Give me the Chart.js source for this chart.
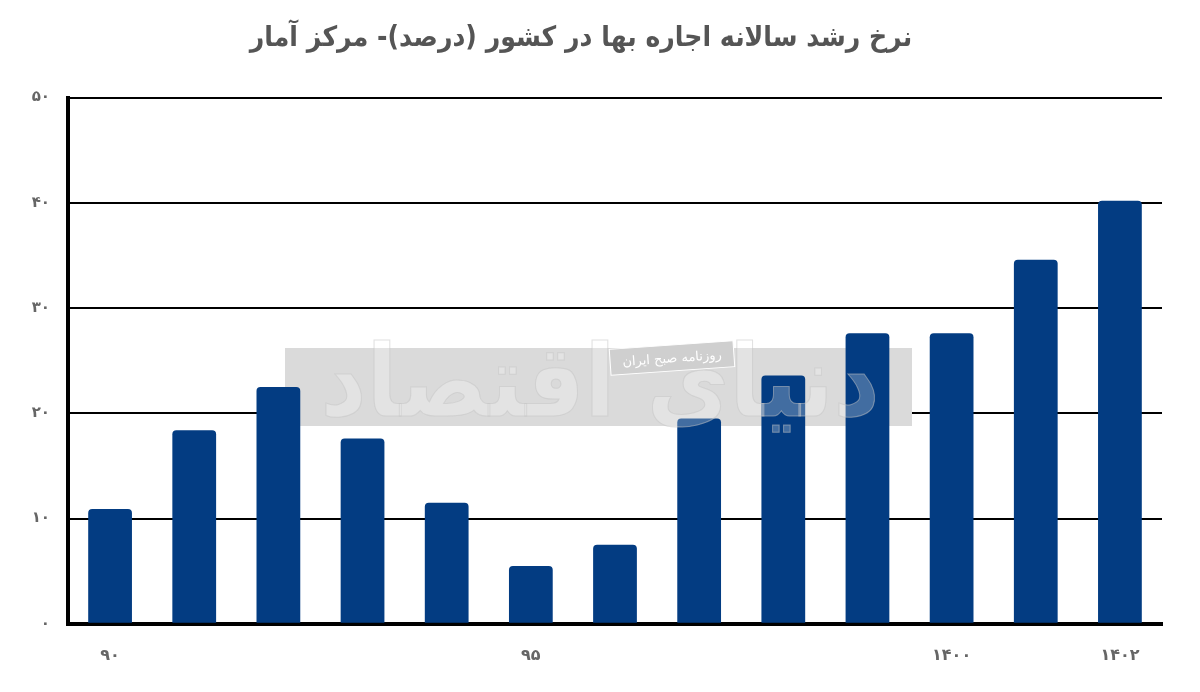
<!DOCTYPE html>
<html>
<head>
<meta charset="utf-8">
<script src="https://cdn.jsdelivr.net/npm/chart.js@4"></script>
<style>
  html, body { margin: 0; padding: 0; background: #fff; }
  #wrap { width: 1200px; height: 692px; }
</style>
</head>
<body>
<div id="wrap"><canvas id="grafico" width="1200" height="692"></canvas></div>
<script>
// ===== DADOS =====
const anos = ['90', '91', '92', '93', '94', '95', '96', '97', '98', '99', '1400', '1401', '1402'];
const rotulosVisiveis = ['90', '95', '1400', '1402'];
const crescimento = [10.9, 18.4, 22.5, 17.6, 11.5, 5.5, 7.5, 19.5, 23.6, 27.6, 27.6, 34.6, 40.2];
const titulo = 'نرخ رشد سالانه اجاره بها در کشور (درصد)- مرکز آمار';
const marcaTexto = 'روزنامه صبح ایران';
const marcaGrande = 'دنیای اقتصاد';

const fonte = '"DejaVu Sans", sans-serif';
const fonteTitulo = '"DejaVu Sans Condensed", "DejaVu Sans", sans-serif';

function faDigits(s) {
  return String(s).replace(/[0-9]/g, d => '۰۱۲۳۴۵۶۷۸۹'[d]);
}

// ===== MARCA D'AGUA =====
const marcaDagua = {
  id: 'marcaDagua',
  beforeDatasetsDraw(chart) {
    const ctx = chart.ctx;
    ctx.save();
    ctx.fillStyle = '#dadada';
    ctx.fillRect(285, 348, 627, 78);
    ctx.restore();
  },
  afterDatasetsDraw(chart) {
    const ctx = chart.ctx;
    ctx.save();
    // caligrafia grande (aproximada)
    ctx.font = 'bold 100px ' + fonteTitulo;
    ctx.textAlign = 'center';
    ctx.textBaseline = 'middle';
    ctx.globalAlpha = 0.25;
    ctx.fillStyle = '#ffffff';
    ctx.fillText(marcaGrande, 600, 390);
    ctx.globalAlpha = 0.5;
    ctx.lineWidth = 1;
    ctx.strokeStyle = '#c4c4c4';
    ctx.strokeText(marcaGrande, 600, 390);
    ctx.globalAlpha = 1;
    // caixinha do jornal
    ctx.translate(672, 358);
    ctx.rotate(-0.07);
    ctx.fillStyle = '#cfcfcf';
    ctx.fillRect(-62, -13, 124, 26);
    ctx.strokeStyle = '#ffffff';
    ctx.lineWidth = 1;
    ctx.strokeRect(-62, -13, 124, 26);
    ctx.fillStyle = '#ffffff';
    ctx.font = '13px ' + fonte;
    ctx.fillText(marcaTexto, 0, 1);
    ctx.restore();
  }
};

const fundoBranco = {
  id: 'fundoBranco',
  beforeDraw(chart) {
    const ctx = chart.ctx;
    ctx.save();
    ctx.fillStyle = '#ffffff';
    ctx.fillRect(0, 0, chart.width, chart.height);
    ctx.restore();
  }
};

// ===== GRAFICO =====
new Chart(document.getElementById('grafico'), {
  type: 'bar',
  data: {
    labels: anos,
    datasets: [{
      data: crescimento,
      backgroundColor: '#033c82',
      borderRadius: { topLeft: 4, topRight: 4, bottomLeft: 0, bottomRight: 0 },
      borderSkipped: 'start',
      barPercentage: 0.52,
      categoryPercentage: 1
    }]
  },
  options: {
    responsive: false,
    animation: false,
    layout: { padding: { top: 10, right: 38, bottom: 13, left: 0 } },
    plugins: {
      legend: { display: false },
      tooltip: { enabled: false },
      title: {
        display: true,
        text: titulo,
        color: '#555555',
        font: { family: fonteTitulo, size: 28, weight: 'bold' },
        padding: { top: 12, bottom: 42 }
      }
    },
    scales: {
      x: {
        grid: { display: false },
        border: { color: '#000', width: 4 },
        ticks: {
          autoSkip: false,
          maxRotation: 0,
          padding: 14,
          color: '#666666',
          font: { family: fonte, size: 16, weight: 'bold' },
          callback(v, i) {
            const l = anos[i];
            return rotulosVisiveis.includes(l) ? faDigits(l) : '';
          }
        }
      },
      y: {
        min: 0,
        max: 50,
        afterFit(s) { s.width = 68; },
        grid: { color: '#000', lineWidth: 2, drawTicks: false },
        border: { color: '#000', width: 4 },
        ticks: {
          stepSize: 10,
          padding: 18,
          color: '#666666',
          font: { family: fonte, size: 15, weight: 'bold' },
          callback: v => faDigits(v)
        }
      }
    }
  },
  plugins: [fundoBranco, marcaDagua]
});
</script>
</body>
</html>
